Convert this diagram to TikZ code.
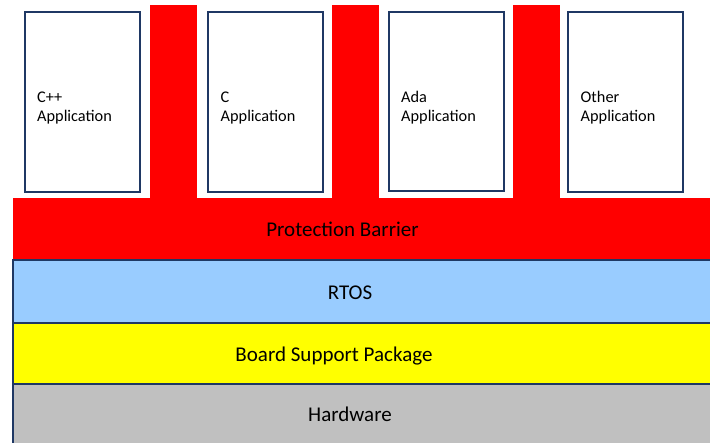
\documentclass[tikz,border=0pt]{standalone}
\usepackage{fontspec}
\setmainfont{Carlito}
\usepackage{tikz}
\usetikzlibrary{positioning}

\definecolor{barrierred}{HTML}{FF0000}
\definecolor{rtosblue}{HTML}{99CCFF}
\definecolor{bspyellow}{HTML}{FFFF00}
\definecolor{hwgray}{HTML}{C0C0C0}
\definecolor{edgenavy}{HTML}{1F3864}

\begin{document}
\begin{tikzpicture}[x=1pt, y=-1pt]
        \tikzset{
            app box/.style={
                    draw=edgenavy, line width=2pt, fill=white
                },
            layer/.style={
                    draw=edgenavy, line width=1.1pt
                },
            app label/.style={
                    font=\fontsize{16.3}{19}\selectfont, align=left, anchor=base west, inner sep=0pt
                },
            layer label/.style={
                    font=\fontsize{21}{25}\selectfont, anchor=base, inner sep=0pt
                }
        }
        \clip (0, 0) rectangle (710, 443);
        \fill[white] (0, 0) rectangle (710, 443);

        % barrier with its three pillars
        \fill[barrierred] (13, 198) rectangle (720, 260);
        \fill[barrierred] (150, 5) rectangle (197, 198);
        \fill[barrierred] (332, 5) rectangle (379, 198);
        \fill[barrierred] (513, 5) rectangle (560, 198);

        % software and hardware layers
        \draw[layer, fill=rtosblue] (13, 260) rectangle (720, 323);
        \draw[layer, fill=bspyellow] (13, 323) rectangle (720, 384);
        \draw[layer, fill=hwgray] (13, 384) rectangle (720, 450);

        \draw[app box] (24.5, 12) rectangle (139.5, 192);
        \draw[app box] (208, 12) rectangle (323, 192);
        \draw[app box] (388.5, 12) rectangle (503.5, 191.5);
        \draw[app box] (568, 12) rectangle (682.5, 192);

        \node[app label] (cpp) at (37, 121.7) {C++\\Application};
        \node[app label] (capp) at (220.5, 121.7) {C\\Application};
        \node[app label] (ada) at (401, 121.7) {Ada\\Application};
        \node[app label] (other) at (580.5, 121.7) {Other\\Application};

        \node[layer label] (barrier) at (342.5, 236.5) {Protection Barrier};
        \node[layer label] (rtos) at (350, 300) {RTOS};
        \node[layer label] (bsp) at (334, 361.5) {Board Support Package};
        \node[layer label] (hw) at (350, 422) {Hardware};
    \end{tikzpicture}
\end{document}
